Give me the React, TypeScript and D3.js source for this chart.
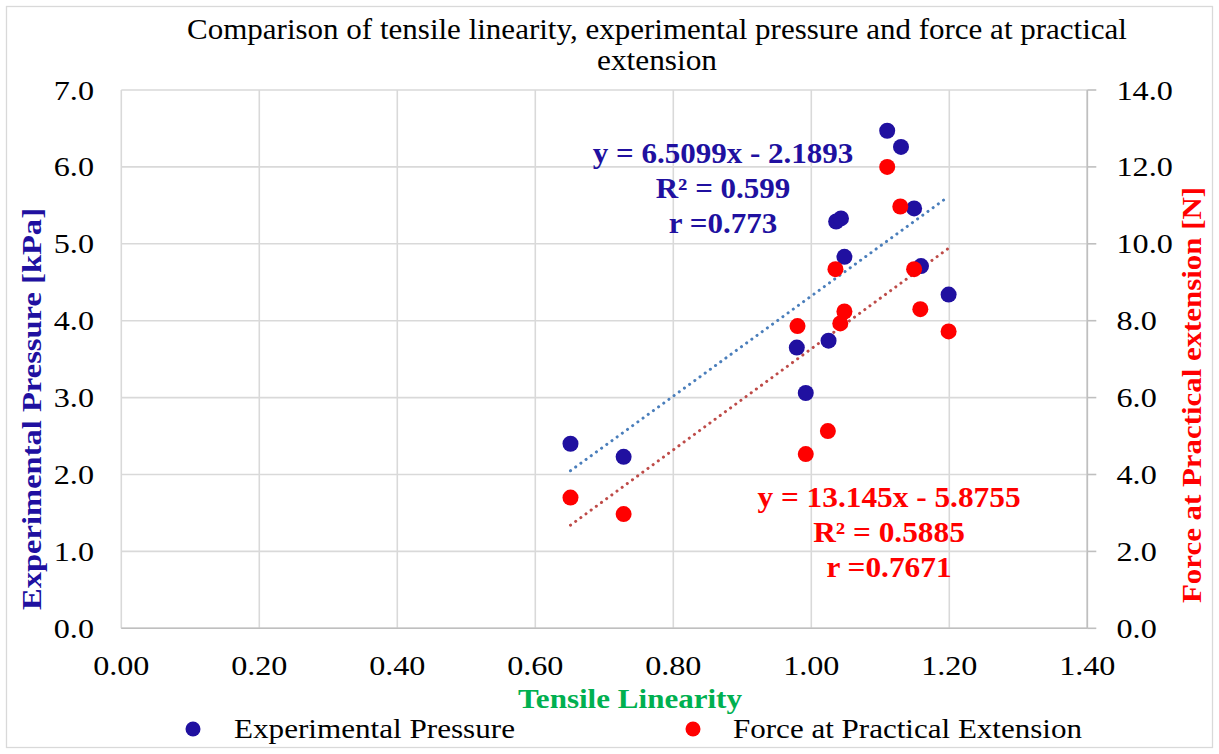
import React from "react";
import * as d3 from "d3";

const linearityPressure = [1.11, 1.13, 1.149, 1.036, 1.043, 1.048, 1.159, 1.199, 1.025, 0.979, 0.992, 0.651, 0.728];
const pressureValues = [6.47, 6.26, 5.46, 5.29, 5.33, 4.83, 4.71, 4.34, 3.74, 3.65, 3.06, 2.40, 2.23];
const linearityForce = [1.11, 1.129, 1.149, 1.035, 1.048, 1.042, 0.98, 1.158, 1.199, 1.024, 0.992, 0.651, 0.728];
const forceValues = [12.0, 10.97, 9.34, 9.34, 8.24, 7.93, 7.86, 8.30, 7.72, 5.13, 4.53, 3.40, 2.97];

const xTicks = [0, 0.2, 0.4, 0.6, 0.8, 1.0, 1.2, 1.4];
const leftTicks = [0, 1, 2, 3, 4, 5, 6, 7];
const rightTicks = [0, 2, 4, 6, 8, 10, 12, 14];

const pressureTrend = { slope: 6.5099, intercept: -2.1893 };
const forceTrend = { slope: 13.145, intercept: -5.8755 };
const pressureLabels = ["y = 6.5099x - 2.1893", "R² = 0.599", "r =0.773"];
const forceLabels = ["y = 13.145x - 5.8755", "R² = 0.5885", "r =0.7671"];

const BLUE = "#2010A0";
const RED = "#FF0000";
const FONT = "'Liberation Serif', 'Times New Roman', serif";
const SX = 1.15;

export default function App() {
  const left = 121.3, right = 1087.3, top = 90, bottom = 628.3;
  const x = d3.scaleLinear().domain([0, 1.4]).range([left, right]);
  const yL = d3.scaleLinear().domain([0, 7]).range([bottom, top]);
  const yR = d3.scaleLinear().domain([0, 14]).range([bottom, top]);

  const xMinP = d3.min(linearityPressure)!, xMaxP = d3.max(linearityPressure)!;
  const xMinF = d3.min(linearityForce)!, xMaxF = d3.max(linearityForce)!;
  const lineL = d3.line<number>().x((v) => x(v)).y((v) => yL(pressureTrend.slope * v + pressureTrend.intercept));
  const lineR = d3.line<number>().x((v) => x(v)).y((v) => yR(forceTrend.slope * v + forceTrend.intercept));

  return (
    <svg width={1219} height={754} style={{ position: "absolute", left: 0, top: 0, fontFamily: FONT }}>
      <rect x={0} y={0} width={1219} height={754} fill="#fff" />
      <rect x={6.5} y={6.5} width={1206} height={741} fill="none" stroke="#d9d9d9" strokeWidth={1.3} />
      <text x={657} y={39} textAnchor="middle" fontSize={30} textLength={940} lengthAdjust="spacingAndGlyphs" fill="#000">
        Comparison of tensile linearity, experimental pressure and force at practical
      </text>
      <text x={657} y={70} textAnchor="middle" fontSize={30} textLength={120} lengthAdjust="spacingAndGlyphs" fill="#000">
        extension
      </text>
      {/* gridlines */}
      {xTicks.map((t) => (
        <line key={"gx" + t} x1={x(t)} x2={x(t)} y1={top} y2={bottom} stroke="#d9d9d9" strokeWidth={1.6} />
      ))}
      {leftTicks.map((t) => (
        <line key={"gy" + t} x1={left} x2={right} y1={yL(t)} y2={yL(t)} stroke="#d9d9d9" strokeWidth={1.6} />
      ))}
      {/* axes */}
      <line x1={left} x2={right} y1={bottom} y2={bottom} stroke="#bfbfbf" strokeWidth={1.6} />
      <line x1={right} x2={right} y1={top} y2={bottom} stroke="#bfbfbf" strokeWidth={1.6} />
      {rightTicks.map((t) => (
        <line key={"rt" + t} x1={right} x2={right + 9} y1={yR(t)} y2={yR(t)} stroke="#bfbfbf" strokeWidth={1.6} />
      ))}
      {/* tick labels */}
      {xTicks.map((t) => (
        <text key={"xl" + t} transform={`translate(${x(t)},675) scale(${SX},1)`} textAnchor="middle" fontSize={28} fill="#000">
          {t.toFixed(2)}
        </text>
      ))}
      {leftTicks.map((t) => (
        <text key={"ll" + t} transform={`translate(94,${yL(t) + 9.5}) scale(${SX},1)`} textAnchor="end" fontSize={28} fill="#000">
          {t.toFixed(1)}
        </text>
      ))}
      {rightTicks.map((t) => (
        <text key={"rl" + t} transform={`translate(1116.5,${yR(t) + 9.5}) scale(${SX},1)`} textAnchor="start" fontSize={28} fill="#000">
          {t.toFixed(1)}
        </text>
      ))}
      {/* trendlines */}
      <path d={lineL([xMinP, xMaxP])!} stroke="#4a7ebb" strokeWidth={3} strokeDasharray="0.1 6.3" strokeLinecap="round" fill="none" />
      <path d={lineR([xMinF, xMaxF])!} stroke="#be4b48" strokeWidth={3} strokeDasharray="0.1 6.3" strokeLinecap="round" fill="none" />
      {/* points */}
      {linearityPressure.map((v, i) => (
        <circle key={"p" + i} cx={x(v)} cy={yL(pressureValues[i])} r={8} fill={BLUE} />
      ))}
      {linearityForce.map((v, i) => (
        <circle key={"f" + i} cx={x(v)} cy={yR(forceValues[i])} r={8} fill={RED} />
      ))}
      {/* annotations */}
      {pressureLabels.map((s, i) => (
        <text key={"pa" + i} transform={`translate(723,${163 + i * 35}) scale(1.07,1)`} textAnchor="middle" fontSize={29} fontWeight="bold" fill={BLUE}>
          {s}
        </text>
      ))}
      {forceLabels.map((s, i) => (
        <text key={"fa" + i} transform={`translate(889,${507 + i * 35}) scale(1.08,1)`} textAnchor="middle" fontSize={29} fontWeight="bold" fill={RED}>
          {s}
        </text>
      ))}
      {/* axis titles */}
      <text x={630} y={708} textAnchor="middle" fontSize={28} fontWeight="bold" fill="#00B050" textLength={224} lengthAdjust="spacingAndGlyphs">
        Tensile Linearity
      </text>
      <text transform={`translate(41,409) rotate(-90)`} textAnchor="middle" fontSize={28} fontWeight="bold" fill={BLUE} textLength={402} lengthAdjust="spacingAndGlyphs">
        Experimental Pressure [kPa]
      </text>
      <text transform={`translate(1201,395) rotate(-90)`} textAnchor="middle" fontSize={28} fontWeight="bold" fill={RED} textLength={416} lengthAdjust="spacingAndGlyphs">
        Force at Practical extension [N]
      </text>
      {/* legend */}
      <circle cx={193} cy={729} r={7.5} fill={BLUE} />
      <text x={234} y={738} fontSize={28} fill="#000" textLength={281} lengthAdjust="spacingAndGlyphs">Experimental Pressure</text>
      <circle cx={693} cy={729} r={7.5} fill={RED} />
      <text x={733} y={738} fontSize={28} fill="#000" textLength={349} lengthAdjust="spacingAndGlyphs">Force at Practical Extension</text>
    </svg>
  );
}
